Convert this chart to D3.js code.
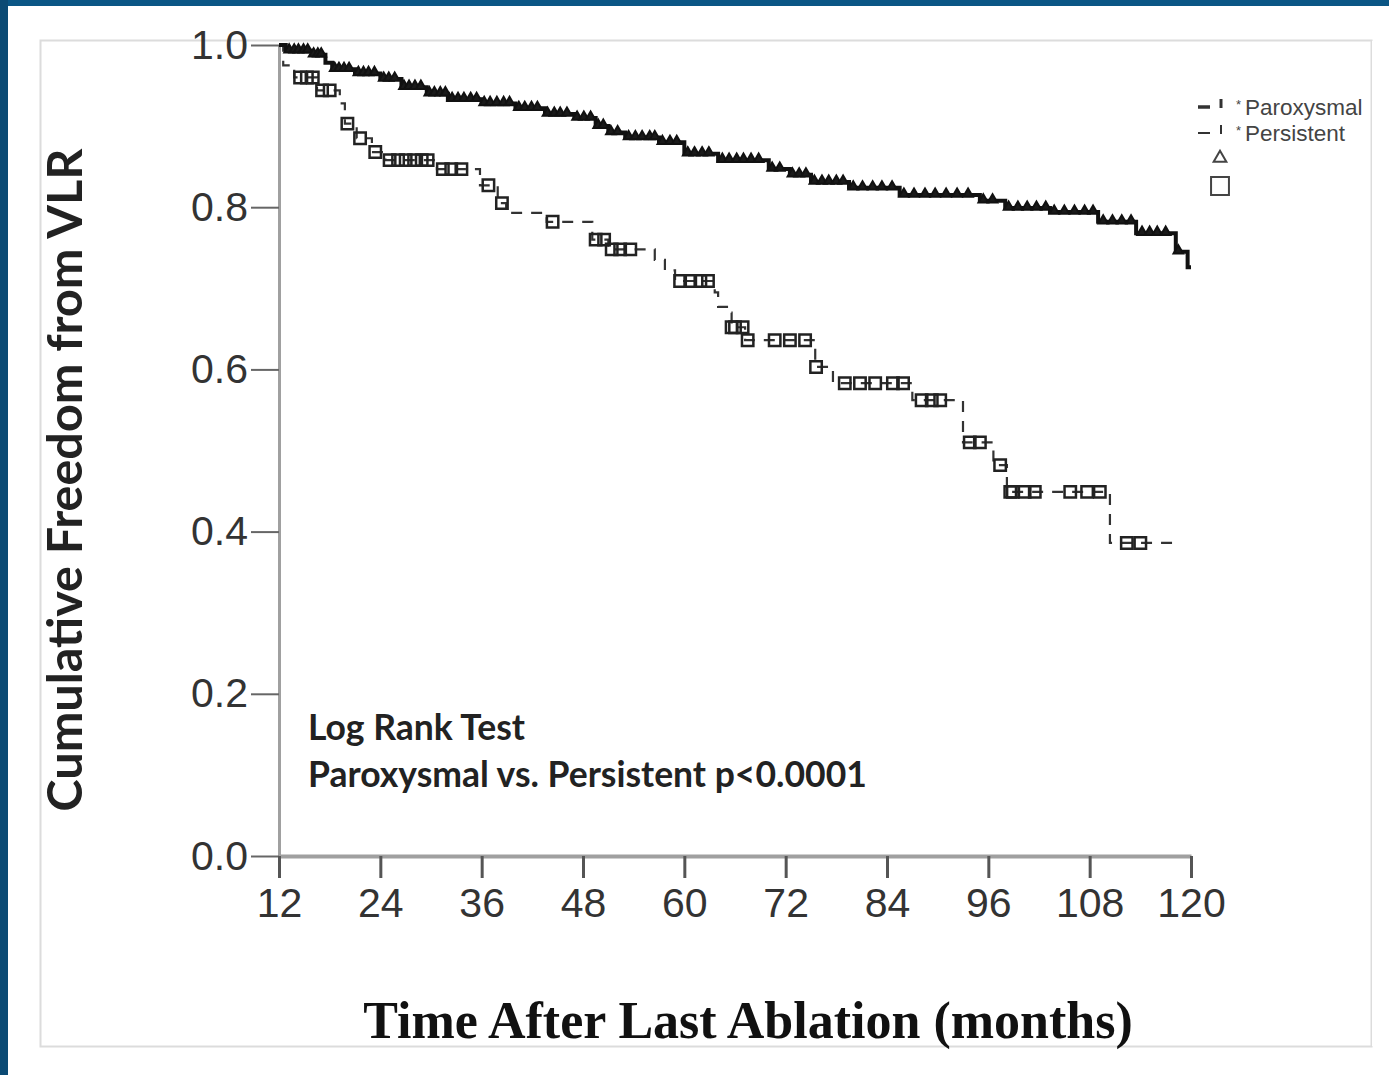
<!DOCTYPE html>
<html>
<head>
<meta charset="utf-8">
<script src="https://cdn.jsdelivr.net/npm/d3@7"></script>
<style>
  body { margin: 0; background: #fff; }
  svg { display: block; }
</style>
</head>
<body>
<div id="chart"></div>
<script>
// tick values
const xTicks = [12, 24, 36, 48, 60, 72, 84, 96, 108, 120];
const yTicks = [0.0, 0.2, 0.4, 0.6, 0.8, 1.0];

// Paroxysmal KM steps (month, survival after step)
const parTime = [12, 12.8, 16.0, 17.5, 18.3, 21.0, 24.0, 26.5, 29.5, 32.0, 36.0, 40.0, 43.5, 47.0, 49.5, 51.0, 53.0, 57.0, 60.0, 64.0, 70.0, 72.5, 75.0, 79.5, 85.5, 95.0, 98.0, 103.3, 109.0, 113.5, 118.2, 119.6];
const parSurv = [1.0, 0.993, 0.988, 0.978, 0.970, 0.965, 0.958, 0.948, 0.940, 0.933, 0.928, 0.922, 0.915, 0.910, 0.900, 0.892, 0.886, 0.880, 0.866, 0.858, 0.847, 0.840, 0.831, 0.824, 0.815, 0.808, 0.799, 0.794, 0.782, 0.768, 0.745, 0.726];
const parEnd = 120;

// Persistent KM steps
const perTime = [12, 12.5, 13.8, 16.5, 19.2, 19.8, 21.2, 23.0, 24.6, 30.7, 35.8, 37.9, 38.9, 43.7, 49.1, 51.0, 56.5, 57.7, 58.9, 63.6, 64.0, 65.2, 65.6, 67.2, 75.5, 77.6, 87.0, 93.0, 96.6, 98.2, 110.4];
const perSurv = [1.0, 0.975, 0.960, 0.944, 0.928, 0.903, 0.885, 0.868, 0.858, 0.847, 0.827, 0.805, 0.793, 0.782, 0.760, 0.748, 0.735, 0.722, 0.709, 0.695, 0.677, 0.670, 0.652, 0.636, 0.603, 0.583, 0.562, 0.510, 0.482, 0.449, 0.386];
const perEnd = 118.5;

// censored observations (months)
const parCensor = [13.2, 13.8, 14.3, 14.9, 15.4, 16.1, 16.6, 17.0, 18.6, 19.1, 19.7, 20.3, 21.4, 22.0, 22.6, 23.3, 24.4, 25.0, 25.7, 26.8, 27.4, 28.1, 28.8, 29.8, 30.4, 31.1, 31.7, 32.5, 33.2, 33.9, 34.7, 35.4, 36.3, 37.0, 37.8, 38.6, 39.3, 40.4, 41.1, 41.9, 42.6, 43.8, 44.6, 45.3, 46.1, 47.3, 48.1, 48.9, 49.8, 50.4, 51.3, 52.1, 53.4, 54.2, 55.0, 55.9, 56.5, 57.4, 58.3, 59.1, 60.4, 61.2, 62.1, 62.9, 64.5, 65.3, 66.2, 67.0, 67.9, 68.8, 70.4, 71.3, 72.8, 73.6, 74.4, 75.4, 76.3, 77.1, 78.0, 78.8, 80.0, 81.1, 82.3, 83.4, 84.6, 86.0, 87.2, 88.5, 89.7, 91.0, 92.3, 93.6, 95.4, 96.5, 98.4, 99.5, 100.6, 101.7, 102.8, 103.8, 105.0, 106.2, 107.4, 108.4, 109.6, 110.7, 111.8, 112.9, 114.2, 115.1, 116.0, 117.0, 118.5];
const perCensor = [14.5, 15.3, 16.0, 17.1, 18.0, 20.1, 21.6, 23.4, 25.1, 26.1, 27.0, 28.0, 28.9, 29.6, 31.4, 32.4, 33.6, 36.8, 38.4, 44.4, 49.5, 50.5, 51.4, 52.4, 53.6, 59.5, 60.7, 61.9, 62.8, 65.6, 66.0, 66.9, 67.5, 70.7, 72.5, 74.3, 75.6, 79.0, 80.8, 82.6, 84.7, 85.9, 88.1, 89.3, 90.3, 93.8, 95.0, 97.4, 98.6, 98.9, 100.3, 101.5, 105.7, 107.7, 109.2, 112.4, 114.0];

const W = 1389, H = 1075;
const svg = d3.select("#chart").append("svg")
  .attr("width", W)
  .attr("height", H);

// page frame
svg.append("rect").attr("x", 0).attr("y", 0).attr("width", W).attr("height", 6).attr("fill", "#0b5685");
svg.append("rect").attr("x", 0).attr("y", 0).attr("width", 8).attr("height", H).attr("fill", "#0b4a74");
svg.append("rect")
  .attr("x", 40.5).attr("y", 40.5).attr("width", 1331).attr("height", 1006)
  .attr("fill", "none").attr("stroke", "#dcdcdc").attr("stroke-width", 2);

const x = d3.scaleLinear().domain([12, 120]).range([279, 1191]);
const y = d3.scaleLinear().domain([0, 1]).range([856, 45]);

// axes
const yAxis = svg.append("g")
  .attr("transform", "translate(279,0)")
  .call(d3.axisLeft(y).tickValues(yTicks).tickFormat(d3.format(".1f")).tickSize(28).tickSizeOuter(0).tickPadding(3));
yAxis.select(".domain").attr("stroke", "#a0a0a0").attr("stroke-width", 3);
yAxis.selectAll(".tick line").attr("stroke", "#666").attr("stroke-width", 2);
yAxis.selectAll(".tick text")
  .attr("font-family", "'Liberation Sans', Arial, sans-serif")
  .attr("font-size", 41).attr("fill", "#333");

const xAxis = svg.append("g")
  .attr("transform", "translate(0,856)")
  .call(d3.axisBottom(x).tickValues(xTicks).tickSize(22).tickSizeOuter(0).tickPadding(10));
xAxis.select(".domain").attr("stroke", "#a0a0a0").attr("stroke-width", 4);
xAxis.selectAll(".tick line").attr("stroke", "#555").attr("stroke-width", 3);
xAxis.selectAll(".tick text")
  .attr("font-family", "'Liberation Sans', Arial, sans-serif")
  .attr("font-size", 41).attr("fill", "#333");

// step curves
const line = d3.line().x(d => x(d[0])).y(d => y(d[1])).curve(d3.curveStepAfter);
const parPts = parTime.map((t, i) => [t, parSurv[i]]).concat([[parEnd, parSurv[parSurv.length - 1]]]);
const perPts = perTime.map((t, i) => [t, perSurv[i]]).concat([[perEnd, perSurv[perSurv.length - 1]]]);

function survAt(times, surv, t) {
  let s = surv[0];
  for (let i = 0; i < times.length; i++) if (times[i] <= t) s = surv[i];
  return s;
}

svg.append("path")
  .attr("d", line(perPts))
  .attr("fill", "none").attr("stroke", "#333").attr("stroke-width", 2.2)
  .attr("stroke-dasharray", "11,9");

svg.append("path")
  .attr("d", line(parPts))
  .attr("fill", "none").attr("stroke", "#111").attr("stroke-width", 4);

// censor marks
svg.append("g").selectAll("path")
  .data(perCensor)
  .enter().append("path")
  .attr("d", d3.symbol().type(d3.symbolSquare).size(130))
  .attr("transform", d => `translate(${x(d)},${y(survAt(perTime, perSurv, d))})`)
  .attr("fill", "none").attr("stroke", "#222").attr("stroke-width", 2.5);

svg.append("g").selectAll("path")
  .data(parCensor)
  .enter().append("path")
  .attr("d", d3.symbol().type(d3.symbolTriangle).size(40))
  .attr("transform", d => `translate(${x(d)},${y(survAt(parTime, parSurv, d)) - 1})`)
  .attr("fill", "#1a1a1a").attr("stroke", "#111").attr("stroke-width", 2);

// axis titles
svg.append("text")
  .attr("transform", "translate(82,480) rotate(-90)")
  .attr("text-anchor", "middle")
  .attr("font-family", "Lato, sans-serif").attr("font-weight", 700)
  .attr("font-size", 48.5).attr("fill", "#222")
  .text("Cumulative Freedom from VLR");

svg.append("text")
  .attr("x", 748).attr("y", 1038)
  .attr("text-anchor", "middle")
  .attr("font-family", "'Liberation Serif', 'Times New Roman', serif").attr("font-weight", 700)
  .attr("font-size", 52).attr("fill", "#111")
  .text("Time After Last Ablation (months)");

// annotation
const note = svg.append("g")
  .attr("font-family", "Lato, sans-serif").attr("font-weight", 700)
  .attr("font-size", 35.5).attr("fill", "#222");
note.append("text").attr("x", 308).attr("y", 740).text("Log Rank Test");
note.append("text").attr("x", 308).attr("y", 787).text("Paroxysmal vs. Persistent p<0.0001");

// legend
const legendItems = ["Paroxysmal", "Persistent"];
const leg = svg.append("g");
legendItems.forEach((name, i) => {
  const ly = 107 + i * 26;
  leg.append("line").attr("x1", 1198).attr("x2", 1210).attr("y1", ly).attr("y2", ly)
    .attr("stroke", "#333").attr("stroke-width", i === 0 ? 3.5 : 2);
  leg.append("line").attr("x1", 1221).attr("x2", 1221).attr("y1", ly - 8).attr("y2", ly + 1)
    .attr("stroke", "#333").attr("stroke-width", i === 0 ? 3 : 2);
  leg.append("text").attr("x", 1236).attr("y", ly + 2)
    .attr("font-family", "'Liberation Sans', Arial, sans-serif")
    .attr("font-size", 13).attr("fill", "#444").text("*");
  leg.append("text").attr("x", 1245).attr("y", ly + 8)
    .attr("font-family", "'Liberation Sans', Arial, sans-serif")
    .attr("font-size", 22.5).attr("fill", "#444")
    .text(name);
});
leg.append("path")
  .attr("d", d3.symbol().type(d3.symbolTriangle).size(70))
  .attr("transform", "translate(1220,158)")
  .attr("fill", "none").attr("stroke", "#444").attr("stroke-width", 2);
leg.append("path")
  .attr("d", d3.symbol().type(d3.symbolSquare).size(320))
  .attr("transform", "translate(1220,186)")
  .attr("fill", "none").attr("stroke", "#444").attr("stroke-width", 2);

// white mask to clip the legend text at the frame edge
svg.append("rect").attr("x", 1372).attr("y", 41).attr("width", 17).attr("height", 1005).attr("fill", "#fff");
</script>
</body>
</html>
